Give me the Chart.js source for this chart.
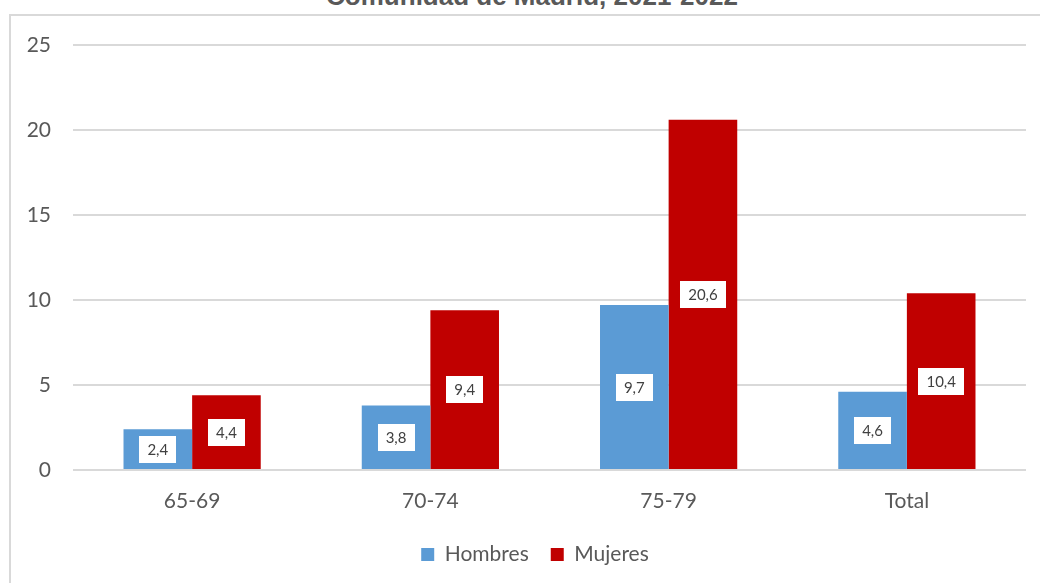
<!DOCTYPE html>
<html>
<head>
<meta charset="utf-8">
<script src="https://cdn.jsdelivr.net/npm/chart.js@4/dist/chart.umd.min.js"></script>
<style>
  html, body { margin: 0; padding: 0; background: #fff; overflow: hidden; }
  #wrap { position: relative; width: 1040px; height: 583px; }
  #frame { position: absolute; left: 9px; top: 14px; width: 1100px; height: 700px; border: 2px solid #d9d9d9; box-sizing: border-box; }
  #title { position: absolute; left: 0; width: 1064px; top: -17px; text-align: center; font: bold 26px "Liberation Sans", Arial, sans-serif; line-height: 1; color: #595959; white-space: nowrap; }
  canvas { position: absolute; left: 0; top: 0; }
</style>
</head>
<body>
<div id="wrap">
  <div id="frame"></div>
  <div id="title">Comunidad de Madrid, 2021-2022</div>
  <canvas id="chart" width="1040" height="583"></canvas>
</div>
<script>
// data
const categories = ['65-69', '70-74', '75-79', 'Total'];
const hombres = [2.4, 3.8, 9.7, 4.6];
const mujeres = [4.4, 9.4, 20.6, 10.4];
const seriesNames = ['Hombres', 'Mujeres'];
const yTicks = [0, 5, 10, 15, 20, 25];

const FONT = 'Lato, "Open Sans", sans-serif';

// white boxes with the value in the middle of each bar
const valueBoxes = {
    id: 'valueBoxes',
    afterDatasetsDraw(chart) {
        const ctx = chart.ctx;
        ctx.save();
        ctx.font = '15px ' + FONT;
        ctx.textAlign = 'center';
        ctx.textBaseline = 'middle';
        chart.data.datasets.forEach((ds, i) => {
            chart.getDatasetMeta(i).data.forEach((bar, j) => {
                const txt = ds.data[j].toFixed(1).replace('.', ',');
                const w = ctx.measureText(txt).width + 16;
                const h = 27;
                const cy = (bar.y + bar.base) / 2;
                ctx.fillStyle = '#ffffff';
                ctx.fillRect(Math.round(bar.x - w / 2), Math.round(cy - h / 2), Math.round(w), h);
                ctx.fillStyle = '#404040';
                ctx.fillText(txt, bar.x, cy + 1);
            });
        });
        ctx.restore();
    }
};

// legend in the original sits a bit right of the plot centre
const legendShift = {
    id: 'legendShift',
    afterLayout(chart) {
        chart.legend.left += 22;
        chart.legend.right += 22;
    }
};

new Chart(document.getElementById('chart'), {
    type: 'bar',
    data: {
        labels: categories,
        datasets: [
            { label: seriesNames[0], data: hombres, backgroundColor: '#5b9bd5' },
            { label: seriesNames[1], data: mujeres, backgroundColor: '#c00000' }
        ]
    },
    options: {
        responsive: false,
        animation: false,
        categoryPercentage: 0.576,
        barPercentage: 1,
        layout: { padding: { top: 45, right: 14, left: 0, bottom: 8 } },
        plugins: {
            title: { display: false },
            tooltip: { enabled: false },
            legend: {
                position: 'bottom',
                labels: {
                    boxWidth: 13, boxHeight: 13, padding: 22,
                    color: '#595959',
                    font: { family: FONT, size: 21 }
                }
            }
        },
        scales: {
            x: {
                grid: { display: false, drawTicks: false },
                border: { display: false },
                ticks: { color: '#595959', font: { family: FONT, size: 21 }, padding: 19 },
                afterFit(scale) { scale.height = 52; }
            },
            y: {
                min: 0, max: 25,
                afterBuildTicks(scale) { scale.ticks = yTicks.map(v => ({ value: v })); },
                grid: { color: '#d9d9d9', lineWidth: 2, drawTicks: false },
                border: { display: false },
                ticks: { color: '#595959', font: { family: FONT, size: 21 }, padding: 22 },
                afterFit(scale) { scale.width = 73; }
            }
        }
    },
    plugins: [valueBoxes, legendShift]
});
</script>
</body>
</html>
